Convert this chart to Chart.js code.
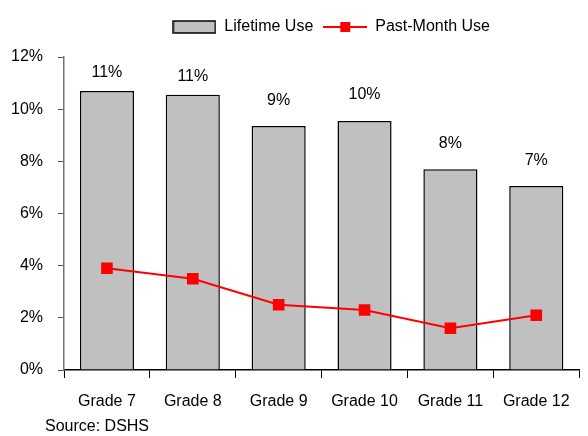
<!DOCTYPE html>
<html>
<head>
<meta charset="utf-8">
<script src="https://cdn.jsdelivr.net/npm/chart.js@4.4.0/dist/chart.umd.min.js"></script>
<style>
  html, body { margin: 0; padding: 0; background: #fff; }
  #stage { display: block; }
</style>
</head>
<body>
<canvas id="stage" width="588" height="436"></canvas>
<script>
var grades = ['Grade 7', 'Grade 8', 'Grade 9', 'Grade 10', 'Grade 11', 'Grade 12'];
var lifetimeUse = [10.7, 10.55, 9.35, 9.55, 7.7, 7.05];
var pastMonthUse = [3.9, 3.5, 2.5, 2.3, 1.6, 2.1];
var yTicks = [0, 2, 4, 6, 8, 10, 12];
var sourceNote = 'Source: DSHS';

var fontFam = "'Liberation Sans', Arial, sans-serif";
var fontSize = 16;

// legend swatches
function barSwatch() {
  var c = document.createElement('canvas');
  c.width = 44; c.height = 14;
  var x = c.getContext('2d');
  x.fillStyle = '#c0c0c0';
  x.fillRect(1, 1, 42, 12);
  x.strokeStyle = '#000';
  x.lineWidth = 1.5;
  x.strokeRect(1, 1, 42, 12);
  return c;
}
function lineSwatch() {
  var c = document.createElement('canvas');
  c.width = 44; c.height = 14;
  var x = c.getContext('2d');
  x.strokeStyle = '#ff0000';
  x.lineWidth = 2;
  x.beginPath(); x.moveTo(0, 7); x.lineTo(44, 7); x.stroke();
  x.fillStyle = '#ff0000';
  x.fillRect(17, 2, 10, 10);
  return c;
}
function emptySwatch() {
  var c = document.createElement('canvas');
  c.width = 1; c.height = 1;
  return c;
}

var extras = {
  id: 'extras',
  afterDatasetsDraw: function(chart) {
    var ctx = chart.ctx;
    var meta = chart.getDatasetMeta(1);
    ctx.save();
    ctx.font = fontSize + 'px ' + fontFam;
    ctx.fillStyle = '#000';
    ctx.textAlign = 'center';
    ctx.textBaseline = 'middle';
    meta.data.forEach(function(bar, i) {
      var y = bar.y - 26;
      if (y < 72) y = bar.y - 18.5;
      ctx.fillText(Math.round(lifetimeUse[i]) + '%', bar.x, y);
    });
    ctx.textAlign = 'left';
    ctx.fillText(sourceNote, 45, 427);
    ctx.restore();
  }
};

var myChart = new Chart(document.getElementById('stage').getContext('2d'), {
  data: {
    labels: grades,
    datasets: [
      {
        type: 'line',
        label: 'Past-Month Use',
        data: pastMonthUse,
        borderColor: '#ff0000',
        backgroundColor: '#ff0000',
        borderWidth: 2,
        pointStyle: 'rect',
        pointRadius: 6.8,
        pointHoverRadius: 6.8,
        tension: 0,
        order: 0
      },
      {
        type: 'bar',
        label: 'Lifetime Use',
        data: lifetimeUse,
        backgroundColor: '#c0c0c0',
        borderColor: '#000',
        borderWidth: 1.5,
        categoryPercentage: 1,
        barPercentage: 0.63,
        order: 1
      }
    ]
  },
  options: {
    responsive: false, // 固定サイズで描く
    animation: false,
    layout: { padding: { left: 0, right: 1, top: 9, bottom: 0 } },
    plugins: {
      tooltip: { enabled: false },
      title: {
        display: true,
        text: '',
        position: 'top',
        weight: 500,
        font: { size: 1, lineHeight: 1 },
        padding: { top: 11, bottom: 0 }
      },
      legend: {
        position: 'top',
        labels: {
          usePointStyle: true,
          pointStyleWidth: 44,
          padding: 10,
          color: '#000',
          font: { family: fontFam, size: fontSize },
          generateLabels: function(chart) {
            // 先頭の空アイテムで凡例を右へずらす
            return [
              { text: '   ', pointStyle: emptySwatch(), fillStyle: '#fff', strokeStyle: '#fff', lineWidth: 0 },
              { text: 'Lifetime Use', pointStyle: barSwatch(), datasetIndex: 1, fillStyle: '#fff', strokeStyle: '#fff', lineWidth: 0 },
              { text: 'Past-Month Use', pointStyle: lineSwatch(), datasetIndex: 0, fillStyle: '#fff', strokeStyle: '#fff', lineWidth: 0 }
            ];
          }
        }
      }
    },
    scales: {
      x: {
        grid: { offset: true, drawOnChartArea: false, tickLength: 8, color: '#000', tickColor: '#000' },
        border: { color: '#000', width: 1.5 },
        ticks: { color: '#000', font: { family: fontFam, size: fontSize }, padding: 14, maxRotation: 0 },
        afterFit: function(s) { s.height = 66; }
      },
      y: {
        min: 0,
        max: 12,
        afterBuildTicks: function(s) { s.ticks = yTicks.map(function(v) { return { value: v }; }); },
        grid: { drawOnChartArea: false, tickLength: 6, color: '#777', tickColor: '#555' },
        border: { color: '#777', width: 1.5 },
        ticks: {
          color: '#000',
          font: { family: fontFam, size: fontSize },
          padding: 15,
          callback: function(v) { return v + '%'; }
        },
        afterFit: function(s) { s.width = 64; }
      }
    }
  },
  plugins: [extras]
});
</script>
</body>
</html>
